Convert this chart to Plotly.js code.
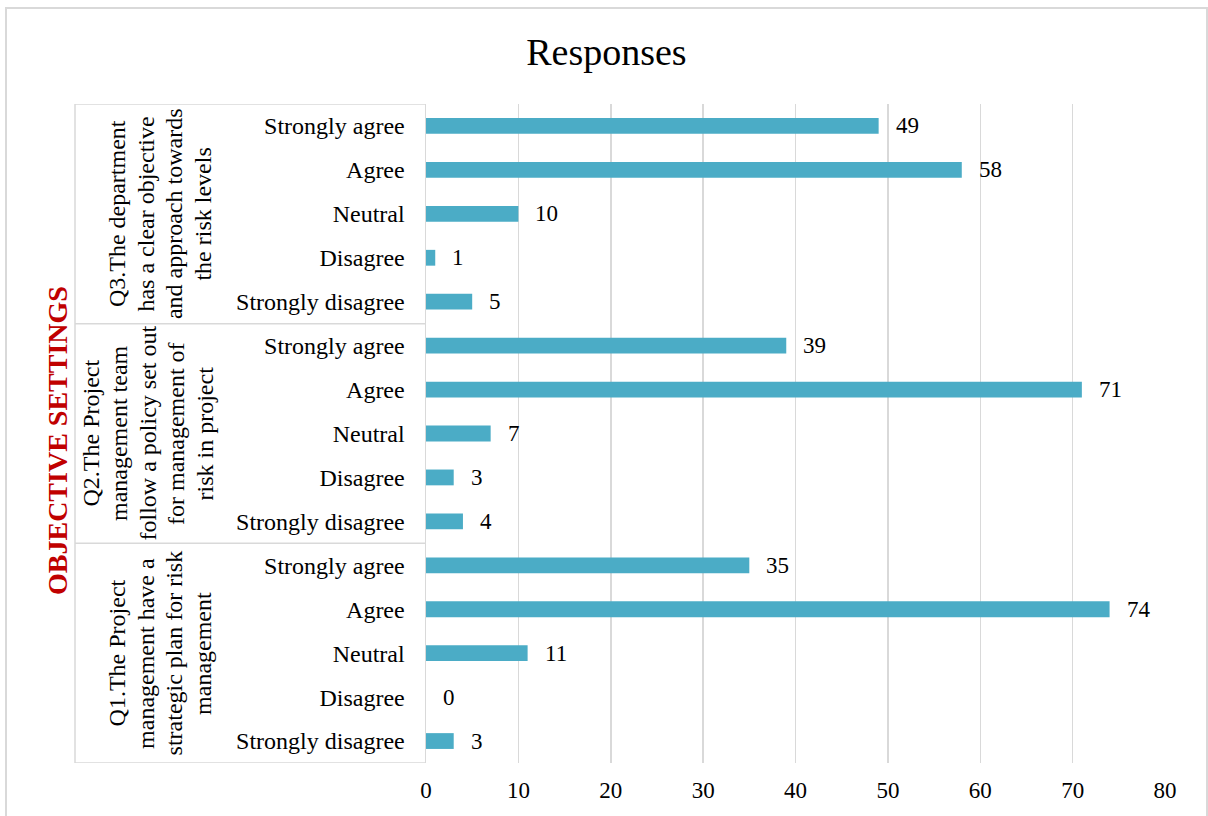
<!DOCTYPE html>
<html>
<head>
<meta charset="utf-8">
<script src="https://cdn.plot.ly/plotly-3.0.1.min.js"></script>
<style>
  html, body { margin: 0; padding: 0; background: #fff; }
  #wrap { position: relative; width: 1208px; height: 816px; overflow: hidden; }
  #chart { position: absolute; left: 0; top: 0; width: 1208px; height: 816px; }
  #frame { position: absolute; left: 5px; top: 7px; width: 1199px; height: 900px;
           border: 2px solid #d9d9d9; pointer-events: none; }
</style>
</head>
<body>
<div id="wrap">
  <div id="chart"></div>
  <div id="frame"></div>
</div>
<script>
// Response levels, listed bottom-up within each question block
const levels = ["Strongly disagree", "Disagree", "Neutral", "Agree", "Strongly agree"];

// Question blocks, listed bottom-up (Q1 at the bottom); one entry per text line
const questions = [
  ["Q1.The Project", "management have a", "strategic plan for risk", "management"],
  ["Q2.The Project", "management team", "follow a policy set out", "for management of", "risk in project"],
  ["Q3.The department", "has a clear objective", "and approach towards", "the risk levels"]
];

// Counts per level (same order as levels)
const q1Counts = [3, 0, 11, 74, 35];
const q2Counts = [4, 3, 7, 71, 39];
const q3Counts = [5, 1, 10, 58, 49];

const groupTitle = "OBJECTIVE SETTINGS";
const chartTitle = "Responses";
const xTicks = [0, 10, 20, 30, 40, 50, 60, 70, 80];

// ---- build rows ----
const countsByQuestion = [q1Counts, q2Counts, q3Counts];
const yPos = [], xVals = [], tickText = [];
countsByQuestion.forEach((arr, g) => {
  arr.forEach((v, k) => {
    yPos.push(g * levels.length + k);
    xVals.push(v);
    tickText.push(levels[k]);
  });
});
const nRows = yPos.length;

// plot-area geometry (pixels)
const W = 1208, H = 816;
const M = { l: 426, r: 43, t: 104, b: 53 };
const plotW = W - M.l - M.r;
const plotH = H - M.t - M.b;
const px2x = px => (px - M.l) / plotW;
const py2y = py => (H - M.b - py) / plotH;

const serif = "Liberation Serif, Times New Roman, serif";
const grey = "#d9d9d9";

const trace = {
  type: "bar",
  orientation: "h",
  x: xVals,
  y: yPos,
  width: 0.36,
  marker: { color: "#4bacc6" },
  hoverinfo: "skip",
  cliponaxis: false
};

const annotations = [];
// value labels
xVals.forEach((v, i) => {
  annotations.push({
    x: v, y: yPos[i], xref: "x", yref: "y",
    text: String(v), showarrow: false,
    xanchor: "left", yanchor: "middle", xshift: 15,
    font: { family: serif, size: 23, color: "#000" }
  });
});
// question labels: rotated lines, block centred in each band
const groupCenterPx = [160, 147, 160];
const lineStep = 28.5;
questions.forEach((lines, g) => {
  lines.forEach((ln, j) => {
    const off = (j - (lines.length - 1) / 2) * lineStep;
    annotations.push({
      x: px2x(groupCenterPx[g] + off), xref: "paper",
      y: g * levels.length + (levels.length - 1) / 2, yref: "y",
      text: ln, showarrow: false, textangle: -90,
      xanchor: "center", yanchor: "middle", align: "center",
      font: { family: serif, size: 24, color: "#000" }
    });
  });
});
// outer group title
annotations.push({
  x: px2x(57), xref: "paper", y: py2y(441), yref: "paper",
  text: "<b>" + groupTitle + "</b>", showarrow: false, textangle: -90,
  xanchor: "center", yanchor: "middle",
  font: { family: serif, size: 28, color: "#c00000" }
});

// table lines of the category axis
const shapes = [];
const leftEdge = px2x(75);
for (let g = 0; g <= questions.length; g++) {
  const yb = g * levels.length - 0.5;
  shapes.push({
    type: "line", xref: "paper", yref: "y",
    x0: leftEdge, x1: 0, y0: yb, y1: yb,
    line: { color: grey, width: 1.5 }
  });
}
shapes.push({
  type: "line", xref: "paper", yref: "y",
  x0: leftEdge, x1: leftEdge, y0: -0.5, y1: nRows - 0.5,
  line: { color: grey, width: 1.5 }
});

const layout = {
  width: W, height: H,
  margin: M,
  paper_bgcolor: "#fff",
  plot_bgcolor: "#fff",
  showlegend: false,
  title: {
    text: chartTitle,
    font: { family: serif, size: 38, color: "#000" },
    x: 0.502, xref: "container", xanchor: "center",
    y: 1 - 52 / H, yref: "container", yanchor: "middle"
  },
  xaxis: {
    range: [0, 80],
    tickvals: xTicks,
    ticktext: xTicks.map(String),
    showgrid: true, gridcolor: grey, gridwidth: 1.5,
    zeroline: false, showline: false,
    ticks: "", ticklabelstandoff: 11,
    tickfont: { family: serif, size: 23, color: "#000" },
    fixedrange: true
  },
  yaxis: {
    range: [-0.5, nRows - 0.5],
    tickvals: yPos,
    ticktext: tickText,
    showgrid: false, zeroline: false,
    showline: true, linecolor: grey, linewidth: 1.5,
    ticks: "", ticklabelstandoff: 15,
    tickfont: { family: serif, size: 24, color: "#000" },
    fixedrange: true
  },
  annotations: annotations,
  shapes: shapes
};

Plotly.newPlot("chart", [trace], layout, { staticPlot: true, displayModeBar: false });
</script>
</body>
</html>
